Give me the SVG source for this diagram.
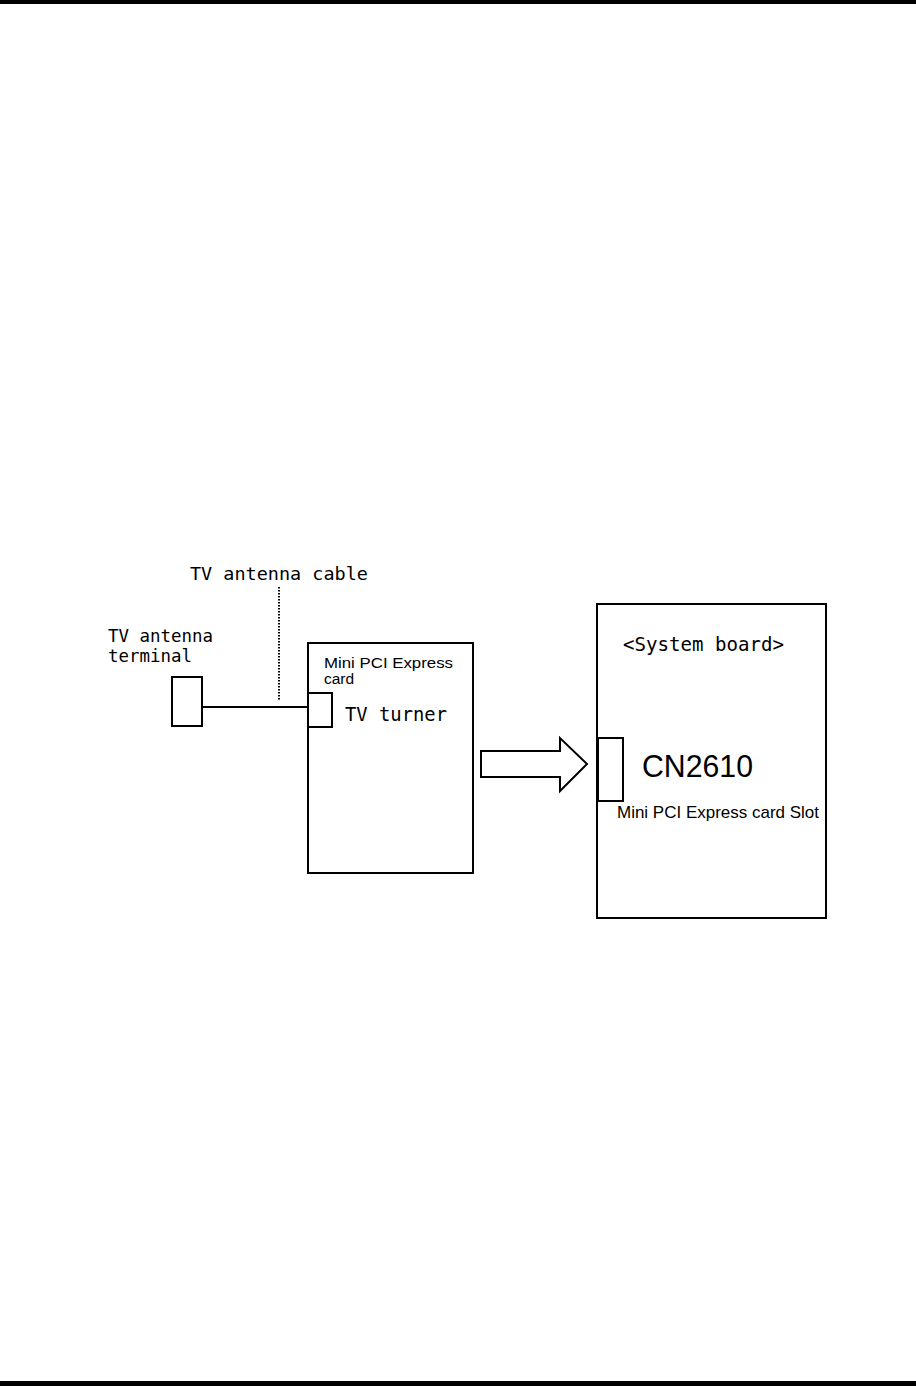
<svg xmlns="http://www.w3.org/2000/svg" width="916" height="1386" viewBox="0 0 916 1386">
<style>
.box{fill:none;stroke:#000;stroke-width:2}
.mono{font-family:"DejaVu Sans Mono","Liberation Mono",monospace;fill:#000}
.sans{font-family:"Liberation Sans",Arial,sans-serif;fill:#000}
</style>
<rect width="916" height="1386" fill="#fff"/>
<rect x="0" y="0" width="916" height="4" fill="#000"/>
<rect x="0" y="1381" width="916" height="5" fill="#000"/>
<g id="terminal">
<rect class="box" x="172" y="677" width="30" height="49"/>
<text class="mono" x="108" y="642" font-size="18" textLength="105" lengthAdjust="spacingAndGlyphs">TV antenna</text>
<text class="mono" x="108" y="662" font-size="18" textLength="84" lengthAdjust="spacingAndGlyphs">terminal</text>
</g>
<g id="card">
<rect class="box" x="308" y="643" width="165" height="230"/>
<rect class="box" x="308" y="693" width="24" height="34"/>
<text class="sans" x="324" y="668" font-size="15.5" textLength="129" lengthAdjust="spacingAndGlyphs">Mini PCI Express</text>
<text class="sans" x="324" y="684" font-size="15.5">card</text>
<text class="mono" x="345" y="721" font-size="19" textLength="102" lengthAdjust="spacingAndGlyphs">TV turner</text>
</g>
<g id="board">
<rect class="box" x="597" y="604" width="229" height="314"/>
<rect class="box" x="598" y="738" width="25" height="63"/>
<text class="mono" x="623" y="651" font-size="19" textLength="161" lengthAdjust="spacingAndGlyphs">&lt;System board&gt;</text>
<text class="sans" x="642" y="777" font-size="31" textLength="111" lengthAdjust="spacingAndGlyphs">CN2610</text>
<text class="sans" x="617" y="818" font-size="17" textLength="202" lengthAdjust="spacingAndGlyphs">Mini PCI Express card Slot</text>
</g>
<g id="connectors">
<line x1="202" y1="707" x2="308" y2="707" stroke="#000" stroke-width="2"/>
<line x1="279" y1="587" x2="279" y2="700" stroke="#000" stroke-width="2" stroke-dasharray="1.5 1.5"/>
<text class="mono" x="190" y="580" font-size="18.5" textLength="178" lengthAdjust="spacingAndGlyphs">TV antenna cable</text>
<polygon points="481,751 560,751 560,738 587,764 560,791 560,777 481,777" fill="none" stroke="#000" stroke-width="2"/>
</g>
</svg>
